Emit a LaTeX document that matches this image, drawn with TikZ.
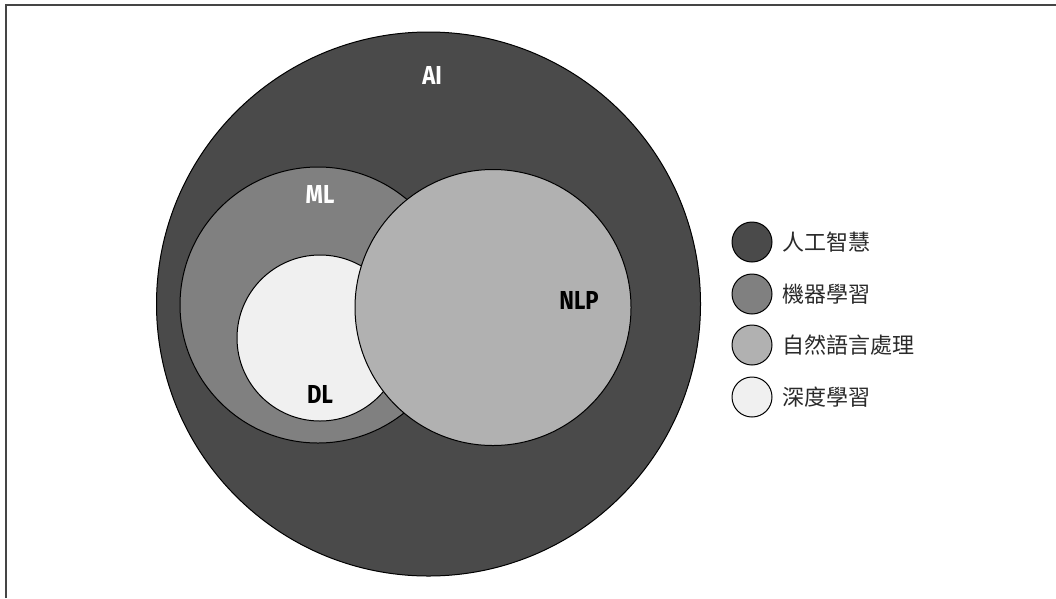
\documentclass[tikz,border=0pt]{standalone}
\usepackage{fontspec}
\setmainfont{Fira Sans}
\newfontfamily\cjkfont{Noto Sans CJK TC}
\newfontfamily\labelfont{Fira Sans}[UprightFont=* Bold]
\definecolor{aicol}{HTML}{4A4A4A}
\definecolor{mlcol}{HTML}{808080}
\definecolor{nlpcol}{HTML}{B1B1B1}
\definecolor{dlcol}{HTML}{F0F0F0}
\definecolor{framecol}{HTML}{454545}
\definecolor{legtext}{HTML}{2A2A2A}
\tikzset{
  setcircle/.style={circle, draw=black, line width=1pt, inner sep=0pt},
  setlabel/.style={font=\labelfont\fontsize{26}{26}\selectfont, inner sep=0pt},
  legdot/.style={circle, draw=black, line width=1pt, inner sep=0pt, minimum size=40pt},
  legtxt/.style={anchor=west, inner sep=0pt, text=legtext, font=\cjkfont\fontsize{22}{22}\selectfont},
}
\begin{document}
\begin{tikzpicture}[x=1pt, y=-1pt]
\useasboundingbox (0,0) rectangle (1056,598);
% frame
\draw[framecol, line width=1.5pt] (6,598) -- (6,5) -- (1056,5);
% nested sets
\node[setcircle, fill=aicol, minimum size=544pt] (ai) at (428.5,304) {};
\node[setcircle, fill=mlcol, minimum size=276pt] (ml) at (318,305) {};
\node[setcircle, fill=dlcol, minimum size=166pt] (dl) at (320,338) {};
\node[setcircle, fill=nlpcol, minimum size=276pt] (nlp) at (493,307.5) {};
% set labels
\node[setlabel, text=white] (ailab) at (432,75) {\scalebox{0.85}[1]{AI}};
\node[setlabel, text=white] (mllab) at (320,194) {\scalebox{0.85}[1]{ML}};
\node[setlabel, text=black] (dllab) at (320,394) {\scalebox{0.85}[1]{DL}};
\node[setlabel, text=black] (nlplab) at (579,300) {\scalebox{0.85}[1]{NLP}};
% legend
\node[legdot, fill=aicol] (l1) at (752,242) {};
\node[legdot, fill=mlcol] (l2) at (752,294) {};
\node[legdot, fill=nlpcol] (l3) at (752,345) {};
\node[legdot, fill=dlcol] (l4) at (752,397) {};
\node[legtxt] (t1) at (782,242) {人工智慧};
\node[legtxt] (t2) at (782,294) {機器學習};
\node[legtxt] (t3) at (782,345) {自然語言處理};
\node[legtxt] (t4) at (782,397) {深度學習};
\end{tikzpicture}
\end{document}
